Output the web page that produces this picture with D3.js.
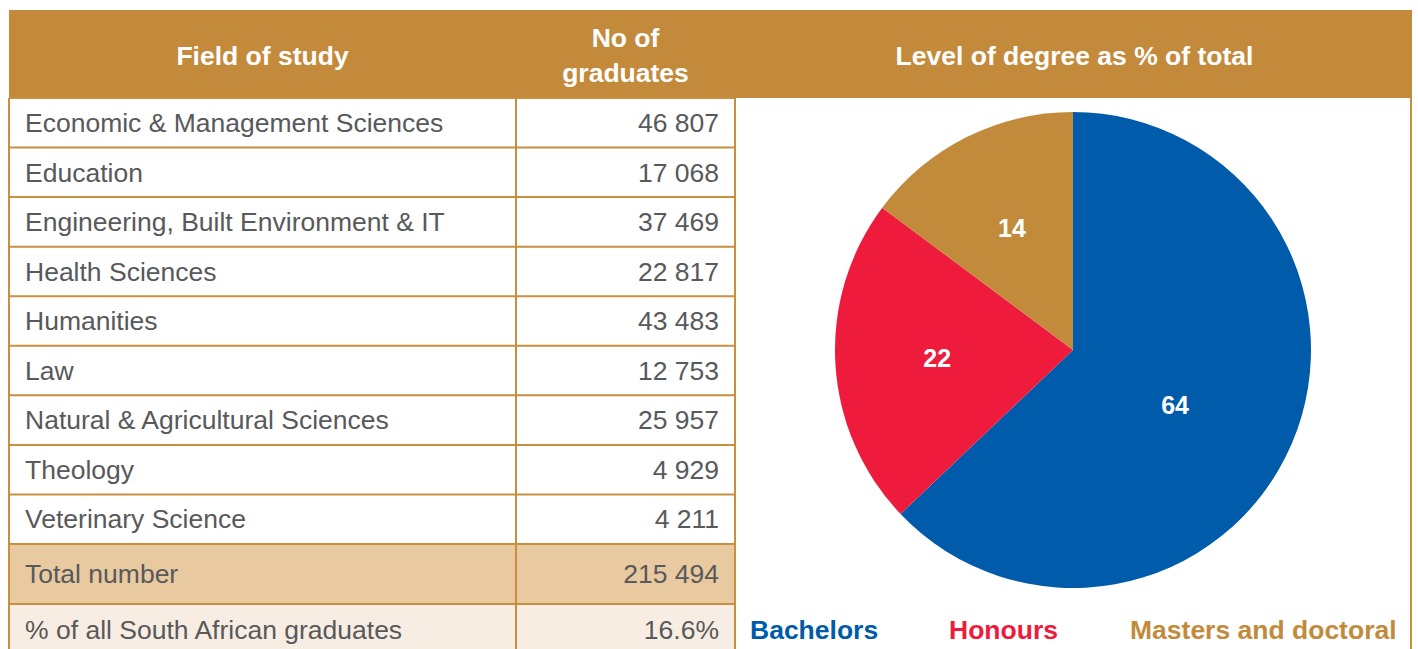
<!DOCTYPE html>
<html>
<head>
<meta charset="utf-8">
<script src="https://cdn.jsdelivr.net/npm/d3@7"></script>
<style>
  html, body { margin: 0; padding: 0; background: #fff; }
  svg { display: block; }
</style>
</head>
<body>
<div id="chart"></div>
<script>
// Table data
const fields = [
  "Economic & Management Sciences",
  "Education",
  "Engineering, Built Environment & IT",
  "Health Sciences",
  "Humanities",
  "Law",
  "Natural & Agricultural Sciences",
  "Theology",
  "Veterinary Science"
];
const graduates = [46807, 17068, 37469, 22817, 43483, 12753, 25957, 4929, 4211];
const totalLabel = "Total number";
const totalValue = 215494;
const shareLabel = "% of all South African graduates";
const shareValue = "16.6%";

// Pie data (shares, labels as printed)
const degreeLevels = ["Bachelors", "Honours", "Masters and doctoral"];
const degreeShares = [62.9, 22.3, 14.8];
const degreeLabels = ["64", "22", "14"];
const degreeColors = ["#005BAA", "#EE1B3D", "#C28B3C"];

const headers = ["Field of study", ["No of", "graduates"], "Level of degree as % of total"];

const W = 1418, H = 649;
const gold = "#C48A3C", lineCol = "#C8903E", textCol = "#58595B";
const x0 = 9, x1 = 516, x2 = 735, x3 = 1412;
const headTop = 10, headBottom = 98, rowsBottom = 544, totalBottom = 604;

const fmt = v => d3.format(",")(v).replace(/,/g, " ");

const svg = d3.select("#chart").append("svg")
  .attr("width", W).attr("height", H)
  .style("font-family", "'Liberation Sans', Arial, sans-serif");

const y = d3.scaleBand().domain(d3.range(fields.length)).range([headBottom, rowsBottom]);

// header band
svg.append("rect").attr("x", x0).attr("y", headTop).attr("width", x3 - x0).attr("height", headBottom - headTop)
  .attr("fill", gold);

// total and share rows background
svg.append("rect").attr("x", x0).attr("y", rowsBottom).attr("width", x2 - x0).attr("height", totalBottom - rowsBottom)
  .attr("fill", "#E8C9A0");
svg.append("rect").attr("x", x0).attr("y", totalBottom).attr("width", x2 - x0).attr("height", H - totalBottom + 10)
  .attr("fill", "#F8EDE3");

// header texts
const ht = svg.append("g").attr("fill", "#fff").attr("font-weight", "bold").attr("font-size", 26.5)
  .attr("text-anchor", "middle");
ht.append("text").attr("x", (x0 + x1) / 2).attr("y", 56).attr("dy", "0.35em").text(headers[0]);
ht.append("text").attr("x", (x1 + x2) / 2).attr("y", 38).attr("dy", "0.35em").text(headers[1][0]);
ht.append("text").attr("x", (x1 + x2) / 2).attr("y", 73).attr("dy", "0.35em").text(headers[1][1]);
ht.append("text").attr("x", (x2 + x3) / 2 + 1).attr("y", 56).attr("dy", "0.35em").text(headers[2]);

// row lines
const lines = svg.append("g").attr("stroke", lineCol).attr("stroke-width", 2);
const hy = d3.range(fields.length + 1).map(i => i < fields.length ? y(i) : rowsBottom).concat([totalBottom]);
lines.selectAll("line.h").data(hy).join("line").attr("class", "h")
  .attr("x1", x0).attr("x2", x2).attr("y1", d => d).attr("y2", d => d);
[x0, x1, x2].forEach(xv => {
  lines.append("line").attr("x1", xv).attr("x2", xv).attr("y1", headBottom).attr("y2", H + 5);
});
lines.append("line").attr("x1", x3 - 1).attr("x2", x3 - 1).attr("y1", headBottom).attr("y2", H + 5);

// row texts
const body = svg.append("g").attr("fill", textCol).attr("font-size", 26.5);
const rows = fields.map((f, i) => ({ name: f, value: fmt(graduates[i]), cy: y(i) + y.bandwidth() / 2 }));
rows.push({ name: totalLabel, value: fmt(totalValue), cy: (rowsBottom + totalBottom) / 2 });
rows.push({ name: shareLabel, value: shareValue, cy: 630 });

body.selectAll("text.name").data(rows).join("text").attr("class", "name")
  .attr("x", 25).attr("y", d => d.cy).attr("dy", "0.35em").text(d => d.name);
body.selectAll("text.val").data(rows).join("text").attr("class", "val")
  .attr("x", 719).attr("y", d => d.cy).attr("dy", "0.35em").attr("text-anchor", "end").text(d => d.value);

// pie
const cx = 1073, cy = 350, R = 238;
const pie = d3.pie().sort(null).value(d => d)(degreeShares);
const arc = d3.arc().innerRadius(0).outerRadius(R);
const g = svg.append("g").attr("transform", `translate(${cx},${cy})`);
g.selectAll("path").data(pie).join("path")
  .attr("d", arc).attr("fill", (d, i) => degreeColors[i]);
g.selectAll("text").data(pie).join("text")
  .attr("transform", d => {
    const big = d.data > 50;
    const r = big ? 116 : 136;
    const a = (d.startAngle + d.endAngle) / 2 + (big ? 0.09 : 0);
    return `translate(${Math.sin(a) * r},${-Math.cos(a) * r})`;
  })
  .attr("dy", "0.35em").attr("text-anchor", "middle")
  .attr("fill", "#fff").attr("font-weight", "bold").attr("font-size", 25)
  .text((d, i) => degreeLabels[i]);

// legend
const legendX = [750, 949, 1130];
svg.append("g").selectAll("text").data(degreeLevels).join("text")
  .attr("x", (d, i) => legendX[i]).attr("y", 630).attr("dy", "0.35em")
  .attr("font-weight", "bold").attr("font-size", 26.5)
  .attr("fill", (d, i) => degreeColors[i])
  .text(d => d);
</script>
</body>
</html>
